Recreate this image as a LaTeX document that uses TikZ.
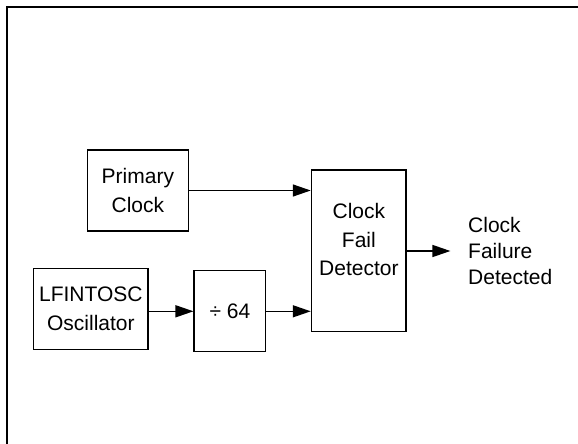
\documentclass[tikz,border=0pt]{standalone}
\usepackage{fontspec}
\setmainfont{Liberation Sans}
\usetikzlibrary{arrows.meta}
\tikzset{
  blk/.style={draw, line width=1.5pt, inner sep=0pt, align=center,
    font=\fontsize{21}{28.5}\selectfont},
  txt/.style={inner sep=0pt, align=center, font=\fontsize{21}{28.5}\selectfont},
  outtxt/.style={inner sep=0pt, align=left, anchor=west, font=\fontsize{21}{25.8}\selectfont},
  sig/.style={line width=1.5pt, -{Triangle[length=18pt,width=12pt]}}
}
\begin{document}
\begin{tikzpicture}[x=1pt,y=-1pt]
\useasboundingbox (0,0) rectangle (578,444);
\draw[line width=2.2pt] (6.8,446) -- (6.8,6.8) -- (580,6.8);
\node[blk, minimum width=100.9pt, minimum height=81pt] (pri) at (137.85,190.5) {Primary\\Clock};
\node[blk, minimum width=114.7pt, minimum height=81pt] (lf) at (90.85,308.85) {LFINTOSC\\Oscillator};
\node[blk, minimum width=71.5pt, minimum height=81pt] (div) at (229.95,311.05) {÷ 64};
\node[blk, minimum width=94.7pt, minimum height=161.7pt] (det) at (358.85,250.85) {};
\node[txt, yshift=11pt] (detl) at (det.center) {Clock\\Fail\\Detector};
\node[outtxt] (out) at (468,251) {Clock\\Failure\\Detected};
\coordinate (outend) at (450.4,251);
\draw[sig] (pri.east) -- (pri.east -| det.west);
\draw[sig] (lf.east |- 0,311.3) -- (div.west |- 0,311.3);
\draw[sig] (div.east |- 0,311.3) -- (det.west |- 0,311.3);
\draw[sig] (det.east |- outend) -- (outend);
\end{tikzpicture}
\end{document}
